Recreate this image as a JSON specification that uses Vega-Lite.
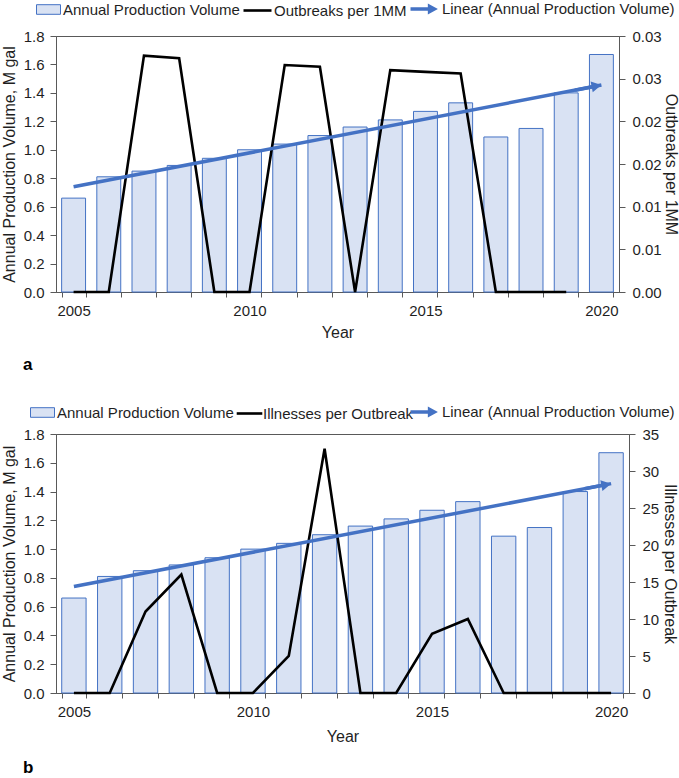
{
  "$schema": "https://vega.github.io/schema/vega-lite/v6.json",
  "padding": 0,
  "autosize": {"type": "pad"},
  "background": "white",
  "config": {
    "font": "Liberation Sans",
    "view": {"stroke": "#595959", "strokeWidth": 1},
    "axis": {
      "labelFont": "Liberation Sans", "labelFontSize": 15, "labelColor": "#1f1f1f",
      "titleFont": "Liberation Sans", "titleFontSize": 16, "titleFontWeight": "normal", "titleColor": "#1f1f1f",
      "domainColor": "#595959", "tickColor": "#595959", "grid": false
    },
    "legend": {
      "labelFont": "Liberation Sans", "labelFontSize": 15, "labelColor": "#1f1f1f", "labelLimit": 500, "padding": 0
    }
  },
  "datasets": {
    "prod": [
      {"year": 2005, "volume": 0.66, "outbreaks": 0, "illnesses": 0},
      {"year": 2006, "volume": 0.81, "outbreaks": 0, "illnesses": 0},
      {"year": 2007, "volume": 0.85, "outbreaks": 0.0277, "illnesses": 11},
      {"year": 2008, "volume": 0.89, "outbreaks": 0.0274, "illnesses": 16},
      {"year": 2009, "volume": 0.94, "outbreaks": 0, "illnesses": 0},
      {"year": 2010, "volume": 1.0, "outbreaks": 0, "illnesses": 0},
      {"year": 2011, "volume": 1.04, "outbreaks": 0.0266, "illnesses": 5},
      {"year": 2012, "volume": 1.1, "outbreaks": 0.0264, "illnesses": 33},
      {"year": 2013, "volume": 1.16, "outbreaks": 0, "illnesses": 0},
      {"year": 2014, "volume": 1.21, "outbreaks": 0.026, "illnesses": 0},
      {"year": 2015, "volume": 1.27, "outbreaks": 0.0258, "illnesses": 8},
      {"year": 2016, "volume": 1.33, "outbreaks": 0.0256, "illnesses": 10},
      {"year": 2017, "volume": 1.09, "outbreaks": 0, "illnesses": 0},
      {"year": 2018, "volume": 1.15, "outbreaks": 0, "illnesses": 0},
      {"year": 2019, "volume": 1.4, "outbreaks": 0, "illnesses": 0},
      {"year": 2020, "volume": 1.67, "outbreaks": null, "illnesses": 0}
    ],
    "trend": [
      {"year": 2005, "trend": 0.74},
      {"year": 2020, "trend": 1.455}
    ]
  },
  "resolve": {
    "scale": {"fill": "independent", "stroke": "independent", "shape": "independent"},
    "legend": {"fill": "independent", "stroke": "independent", "shape": "independent"}
  },
  "spacing": 29,
  "vconcat": [
    {
      "width": 563,
      "height": 256,
      "title": {"text": "a", "orient": "bottom", "anchor": "start", "frame": "group", "dx": -33, "offset": 17, "fontSize": 17, "fontWeight": "bold", "font": "Liberation Sans", "color": "#000000"},
      "encoding": {
        "x": {
          "field": "year", "type": "ordinal",
          "scale": {"domain": [2005,2006,2007,2008,2009,2010,2011,2012,2013,2014,2015,2016,2017,2018,2019,2020], "paddingInner": 0.32, "paddingOuter": 0.16},
          "axis": {"title": "Year", "labelAngle": 0, "tickBand": "extent", "tickSize": 5, "labelPadding": 6, "titlePadding": 6, "labelOverlap": false, "labelFlush": false,
                   "labelExpr": "indexof(['2005','2010','2015','2020'], datum.label) >= 0 ? datum.label : ''"}
        }
      },
      "layer": [
        {
          "data": {"name": "prod"},
          "mark": {"type": "bar", "stroke": "#4472c4", "strokeWidth": 1},
          "encoding": {
            "y": {"field": "volume", "type": "quantitative", "scale": {"domain": [0, 1.8], "nice": false},
                  "axis": {"title": "Annual Production Volume, M gal", "values": [0,0.2,0.4,0.6,0.8,1,1.2,1.4,1.6,1.8], "format": ".1f", "tickSize": 6, "labelPadding": 6, "titlePadding": 6}},
            "fill": {
              "datum": "Annual Production Volume",
              "scale": {"range": ["#d9e2f3"]},
              "legend": {"orient": "none", "legendX": -16, "legendY": -35, "title": null,
                         "symbolType": "M-1.5,-0.6H1.5V0.6H-1.5Z", "symbolSize": 256, "symbolStrokeColor": "#4472c4", "symbolStrokeWidth": 1, "labelOffset": 6}
            }
          }
        },
        {
          "data": {"name": "prod"},
          "mark": {"type": "line", "strokeWidth": 2.6},
          "encoding": {
            "y": {"field": "outbreaks", "type": "quantitative", "scale": {"domain": [0, 0.03], "nice": false},
                  "axis": {"orient": "right", "title": "Outbreaks per 1MM", "values": [0,0.005,0.01,0.015,0.02,0.025,0.03], "labelExpr": "format(datum.value + 0.000001, '.2f')", "tickSize": 6, "labelPadding": 7, "titlePadding": 1}},
            "stroke": {
              "datum": "Outbreaks per 1MM",
              "scale": {"range": ["#000000"]},
              "legend": {"orient": "none", "legendX": 192, "legendY": -35, "title": null,
                         "symbolType": "M-1.75,0H1.75", "symbolSize": 256, "symbolStrokeWidth": 2.6, "labelOffset": 7}
            }
          }
        },
        {
          "data": {"name": "trend"},
          "mark": {"type": "line", "strokeWidth": 3.5, "color": "#4472c4"},
          "encoding": {
            "y": {"field": "trend", "type": "quantitative", "scale": {"domain": [0, 1.8], "nice": false}, "axis": null}
          }
        },
        {
          "data": {"name": "trend"},
          "transform": [{"filter": "datum.year == 2020"}],
          "mark": {"type": "point", "filled": true, "opacity": 1, "color": "#4472c4", "size": 121, "angle": 349},
          "encoding": {
            "y": {"field": "trend", "type": "quantitative", "scale": {"domain": [0, 1.8], "nice": false}, "axis": null},
            "shape": {
              "datum": "Linear (Annual Production Volume)",
              "scale": {"range": ["M0,0L-1.8,-1L-1.8,-0.32L-4.9,-0.32L-4.9,0.32L-1.8,0.32L-1.8,1Z"]},
              "legend": {"orient": "none", "legendX": 374.4, "legendY": -34.5, "title": null,
                         "symbolSize": 125, "symbolFillColor": "#4472c4", "symbolStrokeWidth": 0, "labelOffset": -3.5}
            }
          }
        }
      ],
      "resolve": {"scale": {"y": "independent"}}
    },
    {
      "width": 573,
      "height": 259,
      "title": {"text": "b", "orient": "bottom", "anchor": "start", "frame": "group", "dx": -33, "offset": 16, "fontSize": 17, "fontWeight": "bold", "font": "Liberation Sans", "color": "#000000"},
      "encoding": {
        "x": {
          "field": "year", "type": "ordinal",
          "scale": {"domain": [2005,2006,2007,2008,2009,2010,2011,2012,2013,2014,2015,2016,2017,2018,2019,2020], "paddingInner": 0.32, "paddingOuter": 0.16},
          "axis": {"title": "Year", "labelAngle": 0, "tickBand": "extent", "tickSize": 5, "labelPadding": 6, "titlePadding": 9, "labelOverlap": false, "labelFlush": false,
                   "labelExpr": "indexof(['2005','2010','2015','2020'], datum.label) >= 0 ? datum.label : ''"}
        }
      },
      "layer": [
        {
          "data": {"name": "prod"},
          "mark": {"type": "bar", "stroke": "#4472c4", "strokeWidth": 1},
          "encoding": {
            "y": {"field": "volume", "type": "quantitative", "scale": {"domain": [0, 1.8], "nice": false},
                  "axis": {"title": "Annual Production Volume, M gal", "values": [0,0.2,0.4,0.6,0.8,1,1.2,1.4,1.6,1.8], "format": ".1f", "tickSize": 6, "labelPadding": 6, "titlePadding": 6}},
            "fill": {
              "datum": "Annual Production Volume",
              "scale": {"range": ["#d9e2f3"]},
              "legend": {"orient": "none", "legendX": -22, "legendY": -30, "title": null,
                         "symbolType": "M-1.5,-0.6H1.5V0.6H-1.5Z", "symbolSize": 256, "symbolStrokeColor": "#4472c4", "symbolStrokeWidth": 1, "labelOffset": 6}
            }
          }
        },
        {
          "data": {"name": "prod"},
          "mark": {"type": "line", "strokeWidth": 2.6},
          "encoding": {
            "y": {"field": "illnesses", "type": "quantitative", "scale": {"domain": [0, 35], "nice": false},
                  "axis": {"orient": "right", "title": "Illnesses per Outbreak", "values": [0,5,10,15,20,25,30,35], "tickSize": 6, "labelPadding": 7, "titlePadding": 3}},
            "stroke": {
              "datum": "Illnesses per Outbreak",
              "scale": {"range": ["#000000"]},
              "legend": {"orient": "none", "legendX": 184, "legendY": -30, "title": null,
                         "symbolType": "M-1.6,0H1.6", "symbolSize": 256, "symbolStrokeWidth": 2.6, "labelOffset": 4}
            }
          }
        },
        {
          "data": {"name": "trend"},
          "mark": {"type": "line", "strokeWidth": 3.5, "color": "#4472c4"},
          "encoding": {
            "y": {"field": "trend", "type": "quantitative", "scale": {"domain": [0, 1.8], "nice": false}, "axis": null}
          }
        },
        {
          "data": {"name": "trend"},
          "transform": [{"filter": "datum.year == 2020"}],
          "mark": {"type": "point", "filled": true, "opacity": 1, "color": "#4472c4", "size": 121, "angle": 349},
          "encoding": {
            "y": {"field": "trend", "type": "quantitative", "scale": {"domain": [0, 1.8], "nice": false}, "axis": null},
            "shape": {
              "datum": "Linear (Annual Production Volume)",
              "scale": {"range": ["M0,0L-1.8,-1L-1.8,-0.32L-4.9,-0.32L-4.9,0.32L-1.8,0.32L-1.8,1Z"]},
              "legend": {"orient": "none", "legendX": 374.4, "legendY": -29.5, "title": null,
                         "symbolSize": 125, "symbolFillColor": "#4472c4", "symbolStrokeWidth": 0, "labelOffset": -3.5}
            }
          }
        }
      ],
      "resolve": {"scale": {"y": "independent"}}
    }
  ]
}
